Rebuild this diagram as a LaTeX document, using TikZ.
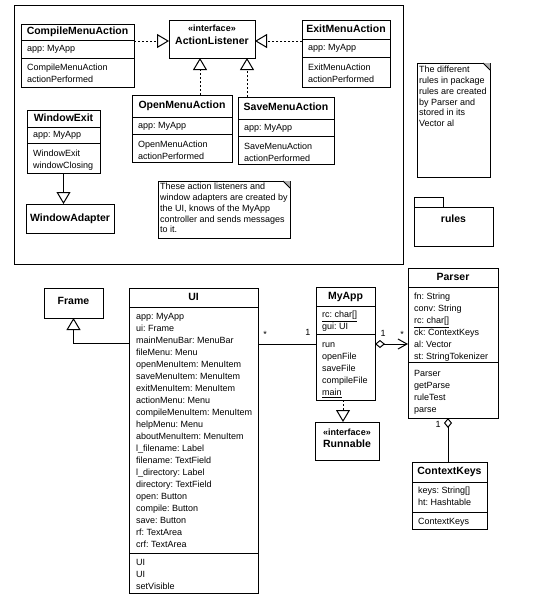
\documentclass[tikz,border=0pt]{standalone}
\usepackage{fontspec}
\setmainfont{Liberation Sans}
\usetikzlibrary{arrows.meta}
\frenchspacing
\tikzset{
  box/.style={draw, line width=1pt, inner sep=0pt, outer sep=0pt, anchor=north west, fill=white},
  ttl/.style={font=\fontsize{10.5}{12}\selectfont\bfseries, inner sep=0pt, anchor=mid},
  ster/.style={font=\fontsize{9}{10}\selectfont\bfseries, inner sep=0pt, anchor=mid},
  txt/.style={font=\fontsize{9}{11}\selectfont, inner sep=0pt, anchor=mid west},
  lbl/.style={font=\fontsize{9}{11}\selectfont, inner sep=0pt, anchor=mid},
  conn/.style={line width=1pt},
  dsh/.style={line width=1pt, dash pattern=on 2pt off 2pt},
  gen/.style={-{Triangle[open, length=12pt, width=14pt]}},
}
\newcommand\mkclass[5]{\node[box, minimum width={(#4-#2)*1pt}, minimum height={(#5-#3)*1pt}] (#1) at (#2,#3) {};}
\newcommand\msep[2]{\draw[conn] (#1.west |- 0,#2) -- (#1.east |- 0,#2);}
\newcommand\mlines[5]{\foreach \linetxt [count=\lineidx from 0] in {#5} {\node[txt] (#1\lineidx) at (#2,#3+#4*\lineidx) {\linetxt};}}
\newcommand\mnote[5]{%
  \node[box, minimum width={(#4-#2)*1pt}, minimum height={(#5-#3)*1pt}] (#1) at (#2,#3) {};
  \fill[gray!60] (#4-7,#3) -- (#4,#3) -- (#4,#3+7) -- cycle;
  \draw[line width=0.8pt] (#4-7,#3) -- (#4,#3+7);
}
\begin{document}
\begin{tikzpicture}[x=1pt,y=-1pt]
\fill[white] (0,0) rectangle (533,595);
\useasboundingbox (0,0) rectangle (533,595);

% package frame
\node[box, fill=none, minimum width=389pt, minimum height=259pt] (pkg) at (14,5) {};

% CompileMenuAction
\mkclass{comp}{21}{24}{134}{87}
\msep{comp}{40}\msep{comp}{58}
\node[ttl] (comp-t) at (77.5,31.5) {CompileMenuAction};
\mlines{comp-a}{27}{48.5}{12}{app: MyApp}
\mlines{comp-o}{27}{68}{11.5}{CompileMenuAction,actionPerformed}

% ActionListener
\mkclass{al}{169}{20}{255}{58}
\node[ster] (al-s) at (212,28.5) {«interface»};
\node[ttl] (al-t) at (212,41.5) {ActionListener};

% ExitMenuAction
\mkclass{exit}{302}{20}{390}{87}
\msep{exit}{39}\msep{exit}{57}
\node[ttl] (exit-t) at (346,30) {ExitMenuAction};
\mlines{exit-a}{308}{48}{12}{app: MyApp}
\mlines{exit-o}{308}{68}{11.5}{ExitMenuAction,actionPerformed}

% OpenMenuAction
\mkclass{open}{132}{95}{232}{162}
\msep{open}{117}\msep{open}{134}
\node[ttl] (open-t) at (182,106) {OpenMenuAction};
\mlines{open-a}{138}{126}{12}{app: MyApp}
\mlines{open-o}{138}{145}{11.5}{OpenMenuAction,actionPerformed}

% SaveMenuAction
\mkclass{save}{238}{97}{334}{164}
\msep{save}{119}\msep{save}{136}
\node[ttl] (save-t) at (286,108) {SaveMenuAction};
\mlines{save-a}{244}{128}{12}{app: MyApp}
\mlines{save-o}{244}{147}{11.5}{SaveMenuAction,actionPerformed}

% WindowExit
\mkclass{wexit}{27}{110}{100}{173}
\msep{wexit}{127}\msep{wexit}{143}
\node[ttl] (wexit-t) at (63.5,118.5) {WindowExit};
\mlines{wexit-a}{33}{135}{12}{app: MyApp}
\mlines{wexit-o}{33}{154}{11.5}{WindowExit,windowClosing}

% WindowAdapter
\mkclass{wad}{26}{204}{114}{233}
\node[ttl] (wad-t) at (70,218.5) {WindowAdapter};

% connectors (top)
\coordinate (h41) at (0,41);
\coordinate (v200) at (200,0);
\coordinate (v247) at (247,0);
\draw[dsh, gen] (comp.east |- h41) -- (al.west |- h41);
\draw[dsh, gen] (exit.west |- h41) -- (al.east |- h41);
\draw[dsh, gen] (open.north -| v200) -- (al.south -| v200);
\draw[dsh, gen] (save.north -| v247) -- (al.south -| v247);
\draw[conn, gen] (wexit.south) -- (wexit.south |- wad.north);

% notes
\mnote{n1}{158}{181}{290}{238}
\mlines{n1-l}{160}{187}{10.8}{These action listeners and,window adapters are created by,{the UI, knows of the MyApp},controller and sends messages,to it.}
\mnote{n2}{417}{63}{490}{177}
\mlines{n2-l}{419}{70}{10.8}{The different,rules in package,rules are created,by Parser and,stored in its,Vector al}

% package rules
\node[box, minimum width=29pt, minimum height=10pt] (rules-tab) at (414,197) {};
\node[box, minimum width=79pt, minimum height=39pt] (rules) at (414,207) {};
\node[ttl] (rules-t) at (453.5,220) {rules};

% Frame
\mkclass{frame}{44}{288}{103}{318}
\node[ttl] (frame-t) at (73.5,302) {Frame};

% UI
\mkclass{ui}{129}{288}{258}{593}
\msep{ui}{307}\msep{ui}{553}
\node[ttl] (ui-t) at (193.5,298) {UI};
\mlines{ui-a}{136}{317}{12}{app: MyApp,ui: Frame,mainMenuBar: MenuBar,fileMenu: Menu,openMenuItem: MenuItem,saveMenuItem: MenuItem,exitMenuItem: MenuItem,actionMenu: Menu,compileMenuItem: MenuItem,helpMenu: Menu,aboutMenuItem: MenuItem,l\_filename: Label,filename: TextField,l\_directory: Label,directory: TextField,open: Button,compile: Button,save: Button,rf: TextArea,crf: TextArea}
\mlines{ui-o}{136}{563}{12}{UI,UI,setVisible}

% MyApp
\mkclass{myapp}{316}{287}{375}{400}
\msep{myapp}{306}\msep{myapp}{334}
\node[ttl] (myapp-t) at (345.5,296.5) {MyApp};
\mlines{myapp-a}{322}{315}{12}{\underline{rc: char[]},gui: UI}
\mlines{myapp-o}{322}{345}{12}{run,openFile,saveFile,compileFile,\underline{main}}

% Runnable
\mkclass{runn}{315}{422}{379}{460}
\node[ster] (runn-s) at (347,433) {«interface»};
\node[ttl] (runn-t) at (347,445) {Runnable};

% Parser
\mkclass{parser}{408}{268}{498}{418}
\msep{parser}{287}\msep{parser}{362}
\node[ttl] (parser-t) at (453,278) {Parser};
\mlines{parser-a}{414}{297}{12}{fn: String,conv: String,\underline{rc: char[]},ck: ContextKeys,al: Vector,st: StringTokenizer}
\mlines{parser-o}{414}{374}{12}{Parser,getParse,ruleTest,parse}

% ContextKeys
\mkclass{ck}{412}{462}{487}{529}
\msep{ck}{482}\msep{ck}{512}
\node[ttl] (ck-t) at (449.5,472) {ContextKeys};
\mlines{ck-a}{418}{491}{12}{keys: String[],ht: Hashtable}
\mlines{ck-o}{418}{522}{12}{ContextKeys}

% connectors (bottom)
\coordinate (h343) at (0,343);
\coordinate (h344) at (0,344);
\coordinate (v343) at (343,0);
\coordinate (v448) at (448,0);
\draw[conn, gen] (ui.west |- h343) -| (frame.south);
\draw[conn] (ui.east |- h344) -- (myapp.west |- h344);
\node[lbl] (m1) at (265,335) {*};
\node[lbl] (m2) at (308,333) {1};
\draw[dsh, gen] (myapp.south -| v343) -- (runn.north -| v343);
\draw[conn, {Diamond[open, length=10pt, width=8pt]}-{Straight Barb[length=9pt, width=10pt]}] (myapp.east |- h344) -- (parser.west |- h344);
\node[lbl] (m3) at (383,334) {1};
\node[lbl] (m4) at (402,335) {*};
\draw[conn, {Diamond[open, length=10pt, width=8pt]}-] (parser.south -| v448) -- (ck.north -| v448);
\node[lbl] (m5) at (438,425) {1};
\end{tikzpicture}
\end{document}
